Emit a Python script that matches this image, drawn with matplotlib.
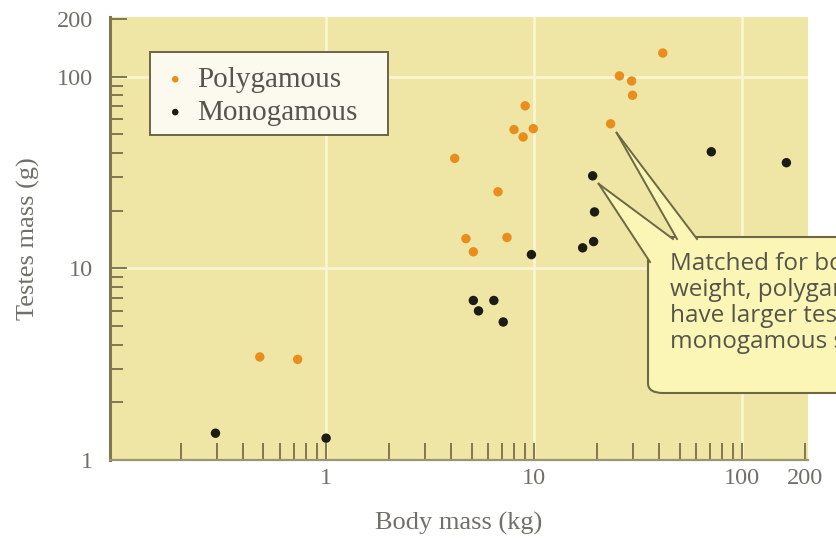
import matplotlib
matplotlib.use("Agg")
import matplotlib.pyplot as plt
from matplotlib.patches import FancyBboxPatch, Polygon, Rectangle
from matplotlib.lines import Line2D
from matplotlib.ticker import LogLocator, FixedLocator, NullFormatter

# Primate body mass (kg) vs testes mass (g), by mating system
poly_mass = [0.48, 0.73, 4.15, 4.7, 5.1, 6.7, 7.4, 8.0, 8.85, 9.05, 9.9,
             23.3, 25.7, 29.4, 29.7, 41.5]
poly_testes = [3.45, 3.35, 37.5, 14.3, 12.2, 25.1, 14.5, 53.0, 48.5, 70.5, 53.6,
               56.8, 101, 95, 80, 133]

mono_mass = [0.294, 1.0, 5.1, 5.4, 6.4, 7.1, 9.7, 17.1, 19.3, 19.5, 19.1, 71, 163]
mono_testes = [1.38, 1.30, 6.8, 6.0, 6.8, 5.25, 11.8, 12.8, 13.8, 19.7, 30.4, 40.6, 35.6]

x_ticks = [1, 10, 100, 200]
y_ticks = [1, 10, 100, 200]

callout = ("Matched for body\nweight, polygamous species\n"
           "have larger testes than\nmonogamous species.")

W, H = 836, 542
BG = "#EFE6A6"
GRID = "#FAF4D2"
OLIVE = "#7E7850"
LABEL = "#707068"
ORANGE = "#E98E1C"
BLACK = "#1C1C14"
SERIF = ["Liberation Serif", "DejaVu Serif"]

fig = plt.figure(figsize=(W / 100, H / 100), dpi=100)
fig.patch.set_facecolor("white")
ax = fig.add_axes([110 / W, 82 / H, 698 / W, 443 / H])
ax.set_facecolor(BG)
ax.set_xscale("log")
ax.set_yscale("log")
ax.set_xlim(0.0915, 207)
ax.set_ylim(1, 205)

for s in ("top", "right"):
    ax.spines[s].set_visible(False)
ax.spines["left"].set_color(OLIVE)
ax.spines["left"].set_linewidth(2.2)
ax.spines["bottom"].set_color("#9A9470")
ax.spines["bottom"].set_linewidth(1.6)

# grid only at the decades
for v in (1, 10, 100):
    ax.axvline(v, color=GRID, lw=2, zorder=0.5)
for v in (10, 100):
    ax.axhline(v, color=GRID, lw=2, zorder=0.5)

ax.xaxis.set_major_locator(FixedLocator(x_ticks))
ax.yaxis.set_major_locator(FixedLocator(y_ticks))
ax.set_xticklabels([str(t) for t in x_ticks])
ax.set_yticklabels([str(t) for t in y_ticks])
ax.xaxis.set_minor_locator(LogLocator(base=10, subs=range(2, 10)))
ax.yaxis.set_minor_locator(LogLocator(base=10, subs=range(2, 10)))
ax.xaxis.set_minor_formatter(NullFormatter())
ax.yaxis.set_minor_formatter(NullFormatter())
ax.tick_params(which="both", direction="in", color=OLIVE, width=1.4)
ax.tick_params(axis="x", which="major", length=12, pad=6, labelsize=17.5, labelcolor=LABEL)
ax.tick_params(axis="x", which="minor", length=12)
ax.tick_params(axis="y", which="major", length=12, pad=12, labelsize=17.5, labelcolor=LABEL)
ax.tick_params(axis="y", which="minor", length=9)
for lab in ax.get_xticklabels() + ax.get_yticklabels():
    lab.set_family(SERIF)

ax.set_xlabel("Body mass (kg)", family=SERIF, fontsize=19, color=LABEL, labelpad=16)
ax.set_ylabel("Testes mass (g)", family=SERIF, fontsize=19, color=LABEL, labelpad=12)

ax.scatter(poly_mass, poly_testes, s=46, color=ORANGE, edgecolors="none",
           label="Polygamous", zorder=3, clip_on=False)
ax.scatter(mono_mass, mono_testes, s=46, color=BLACK, edgecolors="none",
           label="Monogamous", zorder=3, clip_on=False)


def px(x, y_top):
    return (x / W, (H - y_top) / H)


# legend frame drawn separately so it can be wider than its entries
ax.add_patch(Rectangle(px(150, 135), 238 / W, 83 / H, transform=fig.transFigure,
                       facecolor="#FCFAEE", edgecolor="#6A6548", lw=1.4,
                       zorder=4, clip_on=False))
leg = ax.legend(loc="upper left", bbox_to_anchor=(0.060, 0.908), borderaxespad=0,
                frameon=False, prop={"family": SERIF, "size": 21},
                handletextpad=0.25, handlelength=1.0, markerscale=0.7,
                borderpad=0.3, labelspacing=0.22)
leg.set_zorder(5)
for t in leg.get_texts():
    t.set_color("#55554E")

# callout box with two pointers, laid out in figure pixels
fig.canvas.draw()
BOX_FILL = "#FBF6B6"
BOX_EDGE = "#6C6844"


def data_px(x, y, dx, dy):
    dxp, dyp = ax.transData.transform((x, y))
    return ((dxp + dx) / W, (dyp + dy) / H)


box = FancyBboxPatch(px(648, 393), 300 / W, 156 / H,
                     boxstyle="round,pad=0,rounding_size=0.018",
                     transform=fig.transFigure, facecolor=BOX_FILL,
                     edgecolor=BOX_EDGE, lw=1.5, clip_on=False, zorder=5)
fig.patches.append(box)

pointers = [
    (data_px(23.3, 56.8, 6, -9), px(677, 239), px(697, 239)),
    (data_px(19.1, 30.4, 6, -8), px(650, 262), px(673, 239)),
]
for apex, b1, b2 in pointers:
    fig.patches.append(Polygon([apex, b1, b2], closed=True, transform=fig.transFigure,
                               facecolor=BOX_FILL, edgecolor="none", zorder=6))
    for b in (b1, b2):
        fig.lines.append(Line2D([apex[0], b[0]], [apex[1], b[1]],
                                transform=fig.transFigure, color=BOX_EDGE,
                                lw=1.4, zorder=7))

fig.text(670 / W, (H - 252) / H, callout, ha="left", va="top",
         family=["Open Sans", "DejaVu Sans"], fontsize=17.5, color="#55554A",
         linespacing=1.12, zorder=8)

fig.savefig("out.png", dpi=100)
